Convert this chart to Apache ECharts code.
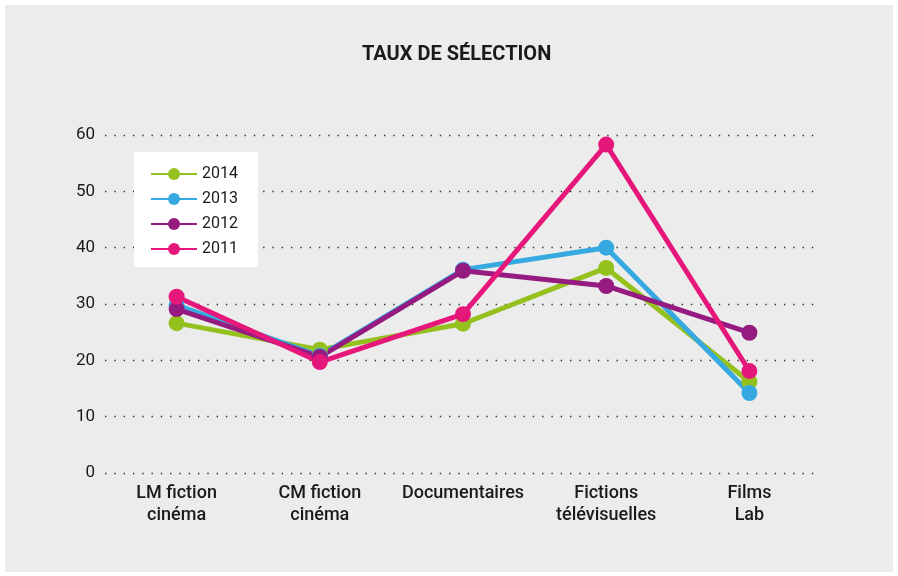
<!DOCTYPE html>
<html>
<head>
<meta charset="utf-8">
<script src="https://cdn.jsdelivr.net/npm/echarts@6/dist/echarts.min.js"></script>
<style>
  html, body { margin: 0; padding: 0; background: #fff; }
  #wrap { position: relative; width: 898px; height: 576px; }
  #chart { position: absolute; left: 5px; top: 5px; width: 888px; height: 567px; background: #ececec; }
</style>
</head>
<body>
<div id="wrap"><div id="chart"></div></div>
<script>
// categories and values
var categories = ["LM fiction\ncinéma", "CM fiction\ncinéma", "Documentaires", "Fictions\ntélévisuelles", "Films\nLab"];
var y2014 = [26.6, 21.9, 26.5, 36.4, 16.2];
var y2013 = [29.8, 20.8, 36.1, 40.0, 14.2];
var y2012 = [29.1, 20.6, 35.9, 33.2, 24.9];
var y2011 = [31.3, 19.7, 28.2, 58.3, 18.1];
var yTicks = [0, 10, 20, 30, 40, 50, 60];

var font = "Roboto, 'Noto Sans', sans-serif";

function makeSeries(name, data, color) {
  return {
    name: name,
    type: "line",
    data: data,
    symbol: "circle",
    symbolSize: 16,
    lineStyle: { color: color, width: 5 },
    itemStyle: { color: color },
    emphasis: { disabled: true }
  };
}

var myChart = echarts.init(document.getElementById("chart"));
var option = {
  animation: false,
  textStyle: { fontFamily: font },
  title: {
    text: "TAUX DE SÉLECTION",
    left: 352,
    top: 35,
    textStyle: { fontFamily: font, fontSize: 20, fontWeight: "bold", color: "#1a1a1a" }
  },
  legend: {
    orient: "vertical",
    left: 129,
    top: 147,
    backgroundColor: "#fff",
    padding: [14, 20, 10, 16],
    itemGap: 9,
    itemWidth: 46,
    itemHeight: 15,
    textStyle: { fontFamily: font, fontSize: 16, color: "#1a1a1a" },
    data: ["2014", "2013", "2012", "2011"]
  },
  grid: {
    left: 100,
    right: 72,
    top: 130,
    bottom: 99
  },
  xAxis: {
    type: "category",
    boundaryGap: true,
    data: categories,
    axisLine: { show: false },
    axisTick: { show: false },
    axisLabel: {
      margin: 9,
      fontFamily: font,
      fontSize: 18,
      fontWeight: 500,
      lineHeight: 22,
      color: "#1a1a1a",
      interval: 0
    }
  },
  yAxis: {
    type: "value",
    min: yTicks[0],
    max: yTicks[yTicks.length - 1],
    interval: 10,
    axisLine: { show: false },
    axisTick: { show: false },
    axisLabel: { margin: 10, fontFamily: font, fontSize: 17, color: "#1a1a1a" },
    splitLine: { lineStyle: { color: "#333", width: 1.4, type: [1.4, 7.9] } }
  },
  series: [
    makeSeries("2014", y2014, "#95c11f"),
    makeSeries("2013", y2013, "#36a9e1"),
    makeSeries("2012", y2012, "#951b81"),
    makeSeries("2011", y2011, "#e6177a")
  ]
};
myChart.setOption(option);
</script>
</body>
</html>
